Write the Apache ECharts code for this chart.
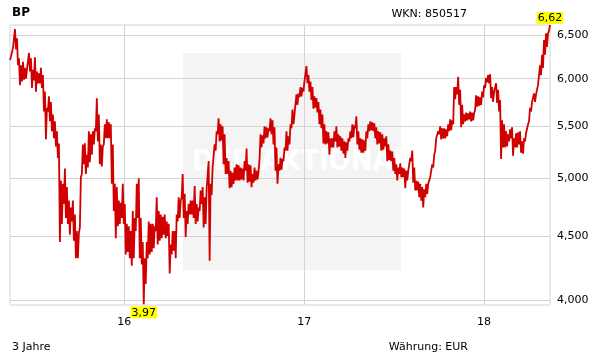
<!DOCTYPE html>
<html>
<head>
<meta charset="utf-8">
<script src="https://cdn.jsdelivr.net/npm/echarts@6/dist/echarts.min.js"></script>
<style>html,body{margin:0;padding:0;background:#fff}#c{width:611px;height:364px}</style>
</head>
<body>
<div id="c"></div>
<script>
// ---- data: per sampling step the upper and lower extent of the daily price line ----
var title = 'BP';
var wkn = 'WKN: 850517';
var periodLabel = '3 Jahre';
var currencyLabel = 'Währung: EUR';
var startDate = '2015-05-14';
var endDate = '2018-05-15';
var yearTicks = ['2016-01-01', '2017-01-01', '2018-01-01'];
var priceTicks = [4.0, 4.5, 5.0, 5.5, 6.0, 6.5];

var high2015 = [
  6.25, 6.35, 6.57, 6.46, 6.23, 6.15, 6.19, 6.12, 6.10, 6.29,
  6.23, 6.10, 6.24, 6.08, 6.06, 6.12, 6.04, 5.86, 5.69, 5.81,
  5.75, 5.62, 5.55, 5.45, 5.33, 4.98, 4.95, 5.09, 4.92, 4.80,
  4.74, 4.80, 4.68, 4.54, 4.52, 5.01, 5.32, 5.33, 5.22, 5.45,
  5.42, 5.45, 5.48, 5.79, 5.62, 5.32, 5.30, 5.52, 5.57, 5.54,
  5.52, 5.32, 4.95, 4.92
];
var low2015 = [
  6.21, 6.27, 6.46, 6.33, 6.15, 5.93, 5.97, 5.99, 6.00, 6.12,
  6.08, 5.90, 5.98, 5.86, 5.95, 5.95, 5.90, 5.65, 5.37, 5.65,
  5.55, 5.45, 5.38, 5.30, 5.19, 4.45, 4.60, 4.77, 4.65, 4.60,
  4.51, 4.62, 4.46, 4.32, 4.32, 4.57, 5.04, 5.13, 5.04, 5.10,
  5.15, 5.22, 5.32, 5.45, 5.35, 5.13, 5.11, 5.32, 5.38, 5.38,
  5.38, 4.95, 4.71, 4.48
];
var high2016a = [
  4.80, 4.78, 4.95, 4.77, 4.60, 4.58, 4.54, 4.71, 4.65, 4.95,
  5.00, 4.65, 4.45, 4.32, 4.45, 4.62, 4.60, 4.60, 4.58, 4.83,
  4.71, 4.68, 4.66, 4.68, 4.62, 4.60, 4.43, 4.54, 4.54, 4.68,
  4.83, 4.80, 5.04, 4.86, 4.71, 4.77, 4.80, 4.80, 4.93, 4.77,
  4.74, 4.89, 4.92, 4.83, 4.90, 5.16, 4.95, 5.10, 5.32, 5.45,
  5.58, 5.52, 5.50, 5.42
];
var low2016a = [
  4.58, 4.60, 4.65, 4.60, 4.35, 4.37, 4.32, 4.26, 4.32, 4.54,
  4.65, 4.32, 4.27, 3.97, 4.12, 4.32, 4.35, 4.37, 4.40, 4.54,
  4.43, 4.46, 4.48, 4.51, 4.48, 4.50, 4.20, 4.35, 4.38, 4.32,
  4.62, 4.65, 4.83, 4.65, 4.49, 4.60, 4.68, 4.68, 4.65, 4.60,
  4.62, 4.71, 4.77, 4.57, 4.60, 4.89, 4.30, 4.85, 5.10, 5.26,
  5.42, 5.35, 5.36, 5.13
];
var high2016b = [
  5.19, 5.16, 5.07, 5.05, 5.10, 5.13, 5.12, 5.10, 5.09, 5.16,
  5.28, 5.13, 5.12, 5.04, 5.10, 5.07, 5.06, 5.42, 5.41, 5.50,
  5.49, 5.48, 5.58, 5.56, 5.49, 5.29, 5.13, 5.19, 5.18, 5.29,
  5.45, 5.40, 5.52, 5.67, 5.62, 5.83, 5.84, 5.91, 5.90, 5.97,
  6.14, 6.04, 5.97, 5.91, 5.81, 5.79, 5.75, 5.67, 5.62, 5.52,
  5.45, 5.44, 5.38, 5.38
];
var low2016b = [
  5.04, 5.04, 4.91, 4.92, 4.95, 4.98, 4.98, 4.98, 4.99, 4.98,
  5.07, 4.96, 4.97, 4.92, 4.96, 4.98, 4.99, 5.18, 5.29, 5.33,
  5.38, 5.39, 5.45, 5.42, 5.32, 5.07, 4.95, 5.07, 5.08, 5.16,
  5.26, 5.26, 5.32, 5.48, 5.52, 5.64, 5.72, 5.80, 5.81, 5.86,
  5.99, 5.95, 5.86, 5.77, 5.68, 5.69, 5.64, 5.52, 5.48, 5.33,
  5.32, 5.33, 5.22, 5.29
];
var high2017 = [
  5.45, 5.50, 5.42, 5.40, 5.38, 5.35, 5.34, 5.38, 5.45, 5.52,
  5.51, 5.60, 5.45, 5.38, 5.37, 5.36, 5.45, 5.52, 5.55, 5.54,
  5.53, 5.49, 5.45, 5.44, 5.42, 5.38, 5.40, 5.32, 5.26, 5.25,
  5.19, 5.13, 5.10, 5.14, 5.10, 5.09, 5.07, 5.07, 5.19, 5.26,
  5.10, 4.98, 4.97, 4.95, 4.92, 4.90, 4.95, 4.95, 5.01, 5.13,
  5.22, 5.38, 5.45, 5.50
];
var low2017 = [
  5.29, 5.35, 5.29, 5.30, 5.26, 5.23, 5.19, 5.26, 5.35, 5.38,
  5.39, 5.48, 5.32, 5.27, 5.24, 5.24, 5.26, 5.38, 5.45, 5.46,
  5.45, 5.38, 5.32, 5.33, 5.26, 5.27, 5.30, 5.16, 5.17, 5.16,
  5.07, 5.04, 4.98, 5.04, 5.01, 5.01, 4.91, 4.98, 5.07, 5.16,
  4.96, 4.89, 4.89, 4.83, 4.80, 4.74, 4.83, 4.86, 4.95, 5.01,
  5.10, 5.26, 5.37, 5.42
];
var high2018 = [
  5.48, 5.48, 5.47, 5.52, 5.57, 5.56, 5.91, 5.91, 6.02, 5.88,
  5.72, 5.62, 5.64, 5.63, 5.65, 5.64, 5.63, 5.82, 5.81, 5.80,
  5.86, 5.93, 6.01, 6.04, 6.05, 5.91, 5.86, 5.95, 5.88, 5.77,
  5.56, 5.52, 5.45, 5.42, 5.47, 5.49, 5.38, 5.43, 5.44, 5.45,
  5.35, 5.38, 5.43, 5.52, 5.69, 5.75, 5.84, 5.83, 5.93, 6.15,
  6.27, 6.44, 6.52, 6.52, 6.62
];
var low2018 = [
  5.37, 5.38, 5.38, 5.40, 5.45, 5.46, 5.52, 5.78, 5.83, 5.72,
  5.49, 5.52, 5.55, 5.56, 5.57, 5.55, 5.56, 5.67, 5.70, 5.71,
  5.72, 5.80, 5.90, 5.96, 5.95, 5.79, 5.75, 5.86, 5.74, 5.65,
  5.18, 5.29, 5.29, 5.30, 5.35, 5.38, 5.21, 5.29, 5.29, 5.32,
  5.24, 5.23, 5.35, 5.42, 5.55, 5.65, 5.74, 5.75, 5.83, 5.93,
  6.04, 6.12, 6.27, 6.36, 6.55
];

// ---- build ----
var highs = [].concat(high2015, high2016a, high2016b, high2017, high2018);
var lows = [].concat(low2015, low2016a, low2016b, low2017, low2018);
var prices = [];
for (var i = 0; i < highs.length; i++) { prices.push(lows[i], highs[i]); }
var t0 = Date.parse(startDate + 'T00:00:00Z');
var t1 = Date.parse(endDate + 'T00:00:00Z');
var step = (t1 - t0) / (prices.length - 1);
var seriesData = prices.map(function (v, i) { return [t0 + i * step, v]; });
var yearTickValues = yearTicks.map(function (d) { return Date.parse(d + 'T00:00:00Z'); });
function deNum(v, d) { return v.toFixed(d).replace('.', ','); }

var chart = echarts.init(document.getElementById('c'), null, {renderer: 'canvas'});
var FONT = 'DejaVu Sans';
var GRID = '#d4d4d4';
chart.setOption({
  animation: false,
  backgroundColor: '#ffffff',
  textStyle: {fontFamily: FONT},
  grid: {left: 10, right: 61, top: 25, bottom: 59, show: true, borderColor: GRID, borderWidth: 1, backgroundColor: 'transparent'},
  xAxis: {
    type: 'value', min: t0, max: t1,
    axisLine: {show: false},
    axisTick: {show: false, customValues: yearTickValues},
    axisLabel: {customValues: yearTickValues, color: '#000', fontSize: 11, fontFamily: FONT, margin: 12,
      formatter: function (v) { return String(new Date(v).getUTCFullYear()).slice(2); }},
    splitLine: {show: true, lineStyle: {color: GRID, width: 1}}
  },
  yAxis: {
    type: 'log', position: 'right', min: 3.965, max: 6.62,
    axisLine: {show: false},
    axisTick: {show: false, customValues: priceTicks},
    axisLabel: {customValues: priceTicks, color: '#000', fontSize: 11, fontFamily: FONT, margin: 7,
      formatter: function (v) { return deNum(v, 3); }},
    splitLine: {show: true, lineStyle: {color: GRID, width: 1}}
  },
  graphic: [
    {type: 'rect', z: -10, shape: {x: 183, y: 53, width: 218, height: 217}, style: {fill: '#f4f4f4'}},
    {type: 'text', z: -9, x: 192, y: 162, style: {text: 'DER AKTIONÄR', fill: '#ffffff', font: 'bold 29px "DejaVu Sans Condensed", "Liberation Sans", sans-serif', textVerticalAlign: 'middle'}},
    {type: 'text', x: 12, y: 13, style: {text: title, fill: '#000', font: 'bold 12px "DejaVu Sans"', textVerticalAlign: 'middle'}},
    {type: 'text', x: 467, y: 14.5, style: {text: wkn, fill: '#000', font: '11px "DejaVu Sans"', textAlign: 'right', textVerticalAlign: 'middle'}},
    {type: 'text', x: 12, y: 347, style: {text: periodLabel, fill: '#000', font: '11px "DejaVu Sans"', textVerticalAlign: 'middle'}},
    {type: 'text', x: 468, y: 347, style: {text: currencyLabel, fill: '#000', font: '11px "DejaVu Sans"', textAlign: 'right', textVerticalAlign: 'middle'}}
  ],
  series: [{
    type: 'line',
    data: seriesData,
    showSymbol: false,
    symbol: 'none',
    clip: false,
    lineStyle: {color: '#d00000', width: 1.8},
    markPoint: {
      symbol: 'circle', symbolSize: 0,
      label: {show: true, color: '#000', fontSize: 11, fontFamily: FONT, backgroundColor: '#ffff00', padding: [1, 1, 0, 1], lineHeight: 11,
        formatter: function (p) { return deNum(p.value, 2); }},
      data: [
        {type: 'max', label: {position: 'top', distance: 1}},
        {type: 'min', label: {position: 'bottom', distance: 2}}
      ]
    }
  }]
});
</script>
</body>
</html>
